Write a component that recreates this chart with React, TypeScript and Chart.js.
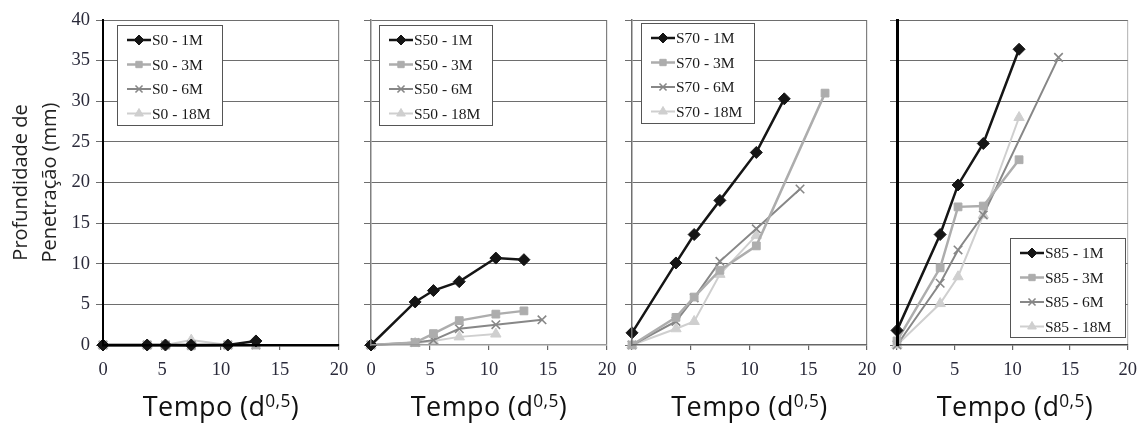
import React, { useEffect, useRef } from 'react';
import { Chart, registerables } from 'chart.js';
import { drawPoint } from 'chart.js/helpers';

Chart.register(...registerables);

// ---------- data ----------
const ages = ['1M', '3M', '6M', '18M'];
const xTickValues = [0, 5, 10, 15, 20];
const yTickValues = [0, 5, 10, 15, 20, 25, 30, 35, 40];
const yAxisTitle = ['Profundidade de', 'Penetração (mm)'];
const xAxisTitleMain = 'Tempo (d';
const xAxisTitleSup = '0,5';

// S0
const S0_1M_X = [0, 3.74, 5.29, 7.48, 10.58, 12.96];
const S0_1M_Y = [0, 0, 0, 0, 0, 0.5];
const S0_3M_X = [0, 3.74, 5.29, 7.48, 10.58, 12.96];
const S0_3M_Y = [0, 0, 0, -0.1, 0, 0];
const S0_6M_X = [0, 3.74, 5.29, 7.48, 10.58, 12.96];
const S0_6M_Y = [0, 0, 0, 0, 0, 0];
const S0_18M_X = [0, 3.74, 5.29, 7.48, 10.58];
const S0_18M_Y = [0, 0, 0, 0.6, 0];

// S50
const S50_1M_X = [0, 3.74, 5.29, 7.48, 10.58, 12.96];
const S50_1M_Y = [0, 5.3, 6.7, 7.8, 10.7, 10.5];
const S50_3M_X = [0, 3.74, 5.29, 7.48, 10.58, 12.96];
const S50_3M_Y = [0, 0.3, 1.4, 3.0, 3.8, 4.2];
const S50_6M_X = [0, 3.74, 5.29, 7.48, 10.58, 14.49];
const S50_6M_Y = [0, 0.3, 0.6, 2.0, 2.5, 3.1];
const S50_18M_X = [0, 3.74, 5.29, 7.48, 10.58];
const S50_18M_Y = [0, 0.2, 0.5, 1.0, 1.35];

// S70
const S70_1M_X = [0, 3.74, 5.29, 7.48, 10.58, 12.96];
const S70_1M_Y = [1.5, 10.1, 13.6, 17.8, 23.7, 30.3];
const S70_3M_X = [0, 3.74, 5.29, 7.48, 10.58, 16.43];
const S70_3M_Y = [0, 3.4, 5.9, 9.2, 12.2, 31.0];
const S70_6M_X = [0, 3.74, 5.29, 7.48, 10.58, 14.3];
const S70_6M_Y = [0, 2.9, 5.8, 10.3, 14.3, 19.2];
const S70_18M_X = [0, 3.74, 5.29, 7.48, 10.58];
const S70_18M_Y = [0, 2.0, 2.9, 8.7, 13.5];

// S85
const S85_1M_X = [0, 3.74, 5.29, 7.48, 10.58];
const S85_1M_Y = [1.8, 13.6, 19.7, 24.8, 36.4];
const S85_3M_X = [0, 3.74, 5.29, 7.48, 10.58];
const S85_3M_Y = [0.5, 9.5, 17.0, 17.1, 22.8];
const S85_6M_X = [0, 3.74, 5.29, 7.48, 14.0];
const S85_6M_Y = [0, 7.6, 11.7, 16.0, 35.4];
const S85_18M_X = [0, 3.74, 5.29, 7.48, 10.58];
const S85_18M_Y = [0, 5.1, 8.4, 16.0, 28.0];

// ---------- styles ----------
const seriesColors = ['#151515', '#adadad', '#878787', '#cfcfcf'];
const seriesPointStyles = ['rectRot', 'rect', 'crossRot', 'triangle'];
const seriesRadius = [6, 5.5, 6, 6];
const seriesLineWidth = [2.5, 2.5, 2, 2];

const SERIF = '"Liberation Serif", "Times New Roman", serif';
const SANS = '"Open Sans", "Noto Sans", sans-serif';

type PanelDef = {
  name: string;
  xs: number[][];
  ys: number[][];
  canvasLeft: number;
  canvasWidth: number;
  plotLeft: number;
  plotRight: number;
  first: boolean;
  yBorderColor: string;
  yBorderWidth: number;
  xBorderColor: string;
  xBorderWidth: number;
  rightColor: string;
  legend: { x: number; y: number; w: number; h: number };
};

const panels: PanelDef[] = [
  {
    name: 'S0',
    xs: [S0_1M_X, S0_3M_X, S0_6M_X, S0_18M_X],
    ys: [S0_1M_Y, S0_3M_Y, S0_6M_Y, S0_18M_Y],
    canvasLeft: 0, canvasWidth: 360, plotLeft: 103, plotRight: 339, first: true,
    yBorderColor: '#000', yBorderWidth: 2, xBorderColor: '#000', xBorderWidth: 2.5,
    rightColor: '#8a8a8a', legend: { x: 14, y: 5, w: 105, h: 100 },
  },
  {
    name: 'S50',
    xs: [S50_1M_X, S50_3M_X, S50_6M_X, S50_18M_X],
    ys: [S50_1M_Y, S50_3M_Y, S50_6M_Y, S50_18M_Y],
    canvasLeft: 340, canvasWidth: 286, plotLeft: 371, plotRight: 607, first: false,
    yBorderColor: '#808080', yBorderWidth: 1.5, xBorderColor: '#9a9a9a', xBorderWidth: 1.5,
    rightColor: '#808080', legend: { x: 8, y: 5, w: 113, h: 100 },
  },
  {
    name: 'S70',
    xs: [S70_1M_X, S70_3M_X, S70_6M_X, S70_18M_X],
    ys: [S70_1M_Y, S70_3M_Y, S70_6M_Y, S70_18M_Y],
    canvasLeft: 600, canvasWidth: 286, plotLeft: 632, plotRight: 867, first: false,
    yBorderColor: '#707070', yBorderWidth: 1.5, xBorderColor: '#666', xBorderWidth: 1.5,
    rightColor: '#808080', legend: { x: 9, y: 3, w: 113, h: 100 },
  },
  {
    name: 'S85',
    xs: [S85_1M_X, S85_3M_X, S85_6M_X, S85_18M_X],
    ys: [S85_1M_Y, S85_3M_Y, S85_6M_Y, S85_18M_Y],
    canvasLeft: 866, canvasWidth: 280, plotLeft: 897, plotRight: 1133, first: false,
    yBorderColor: '#000', yBorderWidth: 3, xBorderColor: '#444', xBorderWidth: 1.5,
    rightColor: '#bdbdbd', legend: { x: 113, y: 218, w: 115, h: 99 },
  },
];

const PLOT_TOP = 20;
const PLOT_BOTTOM = 345;
const CANVAS_H = 428;

const boxLegend = {
  id: 'boxLegend',
  afterDatasetsDraw(chart: any, _args: any, opts: any) {
    const { ctx, chartArea } = chart;
    const x0 = Math.round(chartArea.left + opts.x);
    const y0 = Math.round(chartArea.top + opts.y);
    ctx.save();
    ctx.fillStyle = '#ffffff';
    ctx.fillRect(x0, y0, opts.w, opts.h);
    ctx.strokeStyle = '#555';
    ctx.lineWidth = 1;
    ctx.strokeRect(x0 + 0.5, y0 + 0.5, opts.w, opts.h);
    chart.data.datasets.forEach((ds: any, i: number) => {
      const cy = y0 + 15 + i * 24.5;
      ctx.strokeStyle = ds.borderColor;
      ctx.fillStyle = ds.borderColor;
      ctx.lineWidth = ds.borderWidth;
      ctx.beginPath();
      ctx.moveTo(x0 + 10, cy);
      ctx.lineTo(x0 + 34, cy);
      ctx.stroke();
      ctx.lineWidth = ds.pointBorderWidth;
      drawPoint(ctx, { pointStyle: ds.pointStyle, radius: ds.pointRadius - 1, rotation: 0, borderWidth: ds.pointBorderWidth }, x0 + 22, cy);
      ctx.fillStyle = '#1a1a1a';
      ctx.font = `15.5px ${SERIF}`;
      ctx.textBaseline = 'middle';
      ctx.textAlign = 'left';
      ctx.fillText(ds.label, x0 + 35, cy + 1);
    });
    ctx.restore();
  },
};

function PanelChart({ p }: { p: PanelDef }) {
  const ref = useRef<HTMLCanvasElement>(null);
  useEffect(() => {
    if (!ref.current) return;
    const yWidth = p.plotLeft - p.canvasLeft;
    const rightPad = p.canvasLeft + p.canvasWidth - p.plotRight;
    const datasets = ages.map((a, i) => ({
      label: `${p.name} - ${a}`,
      data: p.xs[i].map((x, k) => ({ x, y: p.ys[i][k] })),
      showLine: true,
      borderColor: seriesColors[i],
      backgroundColor: seriesColors[i],
      pointBackgroundColor: seriesColors[i],
      pointBorderColor: seriesColors[i],
      pointStyle: seriesPointStyles[i],
      pointRadius: seriesRadius[i],
      pointBorderWidth: seriesPointStyles[i] === 'crossRot' ? 1.6 : 1,
      borderWidth: seriesLineWidth[i],
      tension: 0,
      clip: false,
    }));
    const chart = new Chart(ref.current, {
      type: 'scatter',
      data: { datasets },
      plugins: [boxLegend],
      options: {
        animation: false,
        responsive: false,
        events: [],
        layout: { padding: { left: 0, top: PLOT_TOP, right: rightPad, bottom: 0 } },
        plugins: {
          legend: { display: false },
          tooltip: { enabled: false },
          boxLegend: p.legend,
        } as any,
        scales: {
          x: {
            type: 'linear',
            min: 0,
            max: 20,
            afterBuildTicks: (s: any) => { s.ticks = xTickValues.map((v) => ({ value: v })); },
            afterFit: (s: any) => { s.height = CANVAS_H - PLOT_BOTTOM; },
            ticks: { font: { family: SERIF, size: 18.5 }, color: '#2a2a3a', padding: 9, maxRotation: 0 },
            grid: {
              drawOnChartArea: true,
              color: (c: any) => (c.tick && c.tick.value === 20 ? p.rightColor : 'rgba(0,0,0,0)'),
              tickColor: '#666',
              tickLength: 5,
              lineWidth: 1.2,
            },
            border: { color: p.xBorderColor, width: p.xBorderWidth, z: 1 },
          },
          y: {
            type: 'linear',
            min: 0,
            max: 40,
            afterBuildTicks: (s: any) => { s.ticks = yTickValues.map((v) => ({ value: v })); },
            afterFit: (s: any) => { s.width = yWidth; },
            ticks: { display: p.first, font: { family: SERIF, size: 18.5 }, color: '#2a2a3a', padding: 6 },
            grid: {
              color: (c: any) => (c.tick && c.tick.value === 0 ? 'rgba(0,0,0,0)' : '#6e6e6e'),
              tickColor: '#6e6e6e',
              tickLength: 7,
              lineWidth: 1,
            },
            border: { color: p.yBorderColor, width: p.yBorderWidth, z: 1 },
            title: {
              display: p.first,
              text: yAxisTitle,
              font: { family: SANS, size: 20, lineHeight: 1.45 },
              color: '#222',
              padding: { top: 7, bottom: 0 },
            },
          },
        },
      } as any,
    });
    return () => chart.destroy();
  }, [p]);
  return (
    <canvas
      ref={ref}
      width={p.canvasWidth}
      height={CANVAS_H}
      style={{ position: 'absolute', left: p.canvasLeft, top: 0, width: p.canvasWidth, height: CANVAS_H }}
    />
  );
}

export default function App() {
  return (
    <div style={{ position: 'fixed', left: 0, top: 0, width: 1146, height: CANVAS_H, background: '#fff', overflow: 'hidden' }}>
      {panels.map((p) => (
        <PanelChart key={p.name} p={p} />
      ))}
      {panels.map((p) => (
        <div
          key={p.name + '-t'}
          style={{
            position: 'absolute',
            left: p.plotLeft - 30,
            width: p.plotRight - p.plotLeft + 60,
            top: 389,
            textAlign: 'center',
            fontFamily: SANS,
            fontSize: 27,
            lineHeight: '34px',
            color: '#111',
            whiteSpace: 'nowrap',
            letterSpacing: '0.4px',
          }}
        >
          {xAxisTitleMain}
          <sup style={{ fontSize: '0.64em', verticalAlign: '0.55em', lineHeight: 0 }}>{xAxisTitleSup}</sup>)
        </div>
      ))}
    </div>
  );
}
